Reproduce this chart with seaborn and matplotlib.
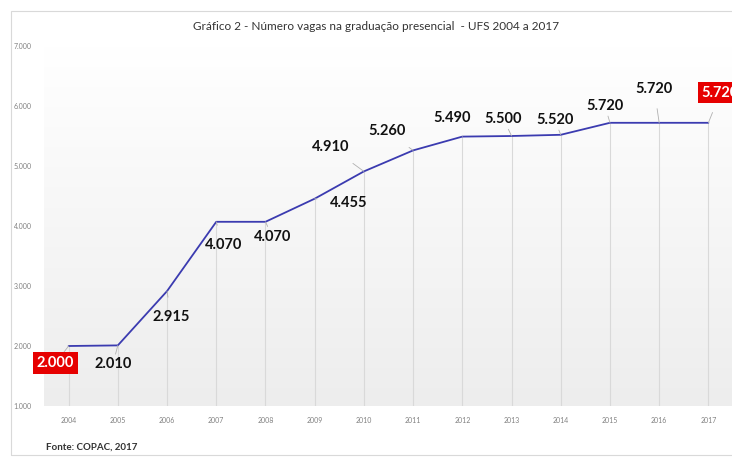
import numpy as np
import pandas as pd
import matplotlib
matplotlib.use("Agg")
import matplotlib.pyplot as plt
import seaborn as sns
from matplotlib.patches import Rectangle

years = [2004, 2005, 2006, 2007, 2008, 2009, 2010, 2011, 2012, 2013, 2014, 2015, 2016, 2017]
vagas = [2000, 2010, 2915, 4070, 4070, 4455, 4910, 5260, 5490, 5500, 5520, 5720, 5720, 5720]
labels = ["2.000", "2.010", "2.915", "4.070", "4.070", "4.455", "4.910", "5.260",
          "5.490", "5.500", "5.520", "5.720", "5.720", "5.720"]
ytick_vals = [1000, 2000, 3000, 4000, 5000, 6000, 7000]
ytick_labels = ["1.000", "2.000", "3.000", "4.000", "5.000", "6.000", "7.000"]
title = "Gráfico 2 - Número vagas na graduação presencial  - UFS 2004 a 2017"
source = "Fonte: COPAC, 2017"

# label offsets in pixels (dx, dy) relative to the point (style only)
offsets = [(-13, -17), (-5, -19), (4, -26), (7, -23), (7, -15), (34, -4), (-33, 24),
           (-26, 19), (-10, 19), (-8, 17), (-6, 15), (-5, 17), (-5, 34), (12, 30)]
highlight = [True] + [False] * 12 + [True]

sns.set_theme(style="white")
plt.rcParams['font.family'] = ['Lato', 'DejaVu Sans']

df = pd.DataFrame({"ano": years, "vagas": vagas})

fig = plt.figure(figsize=(7.32, 4.59), dpi=100)
ax = fig.add_axes([44 / 732, 53 / 459, 689 / 732, 360 / 459])

# gradient background
grad = np.linspace(0.93, 1.0, 256).reshape(-1, 1)
ax.imshow(np.dstack([grad, grad, grad]), extent=[2003.5, 2017.5, 1000, 7000],
          aspect="auto", origin="lower", zorder=0)

# drop lines
ax.vlines(df["ano"], 1000, df["vagas"], color="#d9d9d9", lw=0.8, zorder=1)

sns.lineplot(data=df, x="ano", y="vagas", ax=ax, color="#3b3bb0", lw=1.3, zorder=3)

for x, y, lab, (dx, dy), hl in zip(years, vagas, labels, offsets, highlight):
    kw = dict(xy=(x, y), xytext=(dx, dy), textcoords="offset pixels",
              ha="center", va="center", fontsize=10.5, fontweight="bold",
              arrowprops=dict(arrowstyle="-", color="#b0b0b0", lw=0.6,
                              shrinkA=7, shrinkB=0),
              zorder=5)
    if hl:
        ax.annotate(lab, color="white",
                    bbox=dict(boxstyle="square,pad=0.25", fc="#e60000", ec="none"), **kw)
    else:
        ax.annotate(lab, color="#111111", **kw)

ax.set_xlim(2003.5, 2017.5)
ax.set_ylim(1000, 7000)
ax.set_xticks(years)
ax.set_xticklabels([str(y) for y in years], fontsize=5, color="#808080")
ax.set_yticks(ytick_vals)
ax.set_yticklabels(ytick_labels, fontsize=5, color="#808080")
ax.tick_params(axis="both", length=0)
ax.tick_params(axis="x", pad=8)
ax.tick_params(axis="y", pad=9)
ax.set_xlabel("")
ax.set_ylabel("")
for s in ax.spines.values():
    s.set_visible(False)

fig.text(376 / 732, 1 - 27 / 459, title, ha="center", va="center", fontsize=8.5, color="#333333")
fig.text(46 / 732, 1 - 447 / 459, source, ha="left", va="center", fontsize=7,
         fontweight="bold", color="#333333")

# chart border
fig.add_artist(Rectangle((11 / 732, 1 - 455 / 459), 730 / 732, 444 / 459,
                         transform=fig.transFigure, fill=False, ec="#d9d9d9", lw=0.8))

fig.savefig("out.png", dpi=100)
